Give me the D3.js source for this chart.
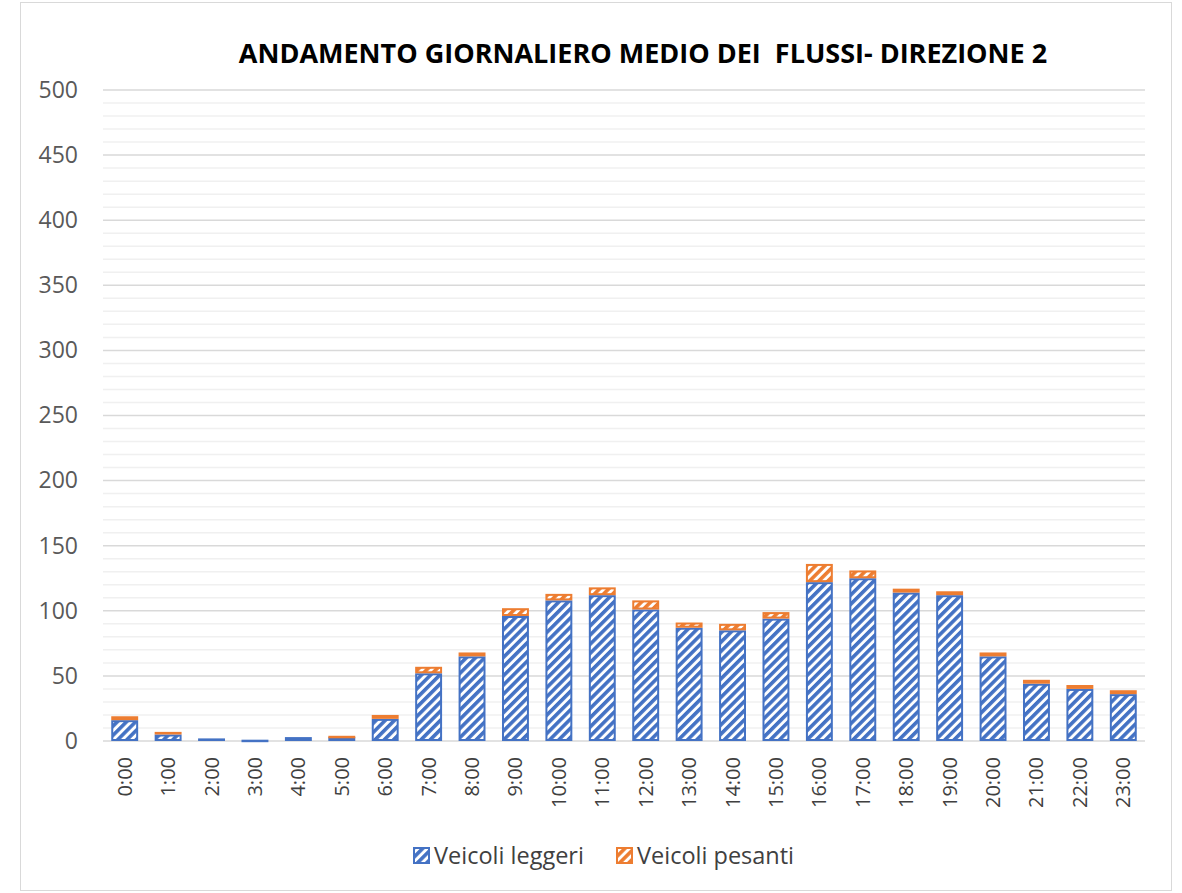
<!DOCTYPE html>
<html lang="it">
<head>
  <meta charset="UTF-8">
  <title>Andamento giornaliero medio dei flussi - direzione 2</title>
  <script src="https://d3js.org/d3.v7.min.js"></script>
  <style>
    body { margin: 0; background: #fff; }
    text { font-family: "Open Sans", "Noto Sans", sans-serif; }
  </style>
</head>
<body>
  <script>
    // Data
    const hours = ["0:00","1:00","2:00","3:00","4:00","5:00","6:00","7:00","8:00","9:00","10:00","11:00",
                   "12:00","13:00","14:00","15:00","16:00","17:00","18:00","19:00","20:00","21:00","22:00","23:00"];
    const leggeri = [16, 5, 2, 1, 3, 3, 17, 52, 65, 96, 108, 112, 101, 87, 85, 94, 122, 125, 114, 112, 65, 44, 40, 36];
    const pesanti = [3, 2, 0, 0, 0, 1, 3, 5, 3, 6, 5, 6, 7, 4, 5, 5, 14, 6, 3, 3, 3, 3, 3, 3];
    const seriesNames = ["Veicoli leggeri", "Veicoli pesanti"];
    const yTicks = [0, 50, 100, 150, 200, 250, 300, 350, 400, 450, 500];

    const width = 1182, height = 893;
    const plotLeft = 103, plotRight = 1145, plotTop = 90, plotBottom = 741;
    const colors = ["#4472C4", "#ED7D31"];

    const svg = d3.select("body").append("svg")
      .attr("width", width)
      .attr("height", height);

    // hatch patterns like Excel's wide upward diagonal
    const defs = svg.append("defs");
    colors.forEach((c, i) => {
      const p = defs.append("pattern")
        .attr("id", "hatch" + i)
        .attr("patternUnits", "userSpaceOnUse")
        .attr("width", 6.5).attr("height", 6.5)
        .attr("patternTransform", "rotate(45)");
      p.append("rect").attr("width", 6.5).attr("height", 6.5).attr("fill", "#fff");
      p.append("rect").attr("width", 3.6).attr("height", 6.5).attr("fill", c);
    });

    // chart frame
    svg.append("rect")
      .attr("x", 20.5).attr("y", 2.5)
      .attr("width", 1151).attr("height", 888)
      .attr("fill", "#fff")
      .attr("stroke", "#d9d9d9");

    const x = d3.scaleBand().domain(hours).range([plotLeft, plotRight]).paddingInner(0.38).paddingOuter(0.19);
    const y = d3.scaleLinear().domain([0, 500]).range([plotBottom, plotTop]);

    // gridlines: minor every 10, major every 50
    const g = svg.append("g");
    g.selectAll(".minor")
      .data(d3.range(0, 501, 10).filter(v => v % 50 !== 0))
      .enter().append("line")
      .attr("x1", plotLeft).attr("x2", plotRight)
      .attr("y1", d => y(d)).attr("y2", d => y(d))
      .attr("stroke", "#f0f0f0").attr("stroke-width", 1.5);

    g.selectAll(".major")
      .data(yTicks)
      .enter().append("line")
      .attr("x1", plotLeft).attr("x2", plotRight)
      .attr("y1", d => y(d)).attr("y2", d => y(d))
      .attr("stroke", "#d9d9d9").attr("stroke-width", 1.5);

    // y axis labels
    const yAxis = svg.append("g")
      .attr("transform", `translate(${plotLeft - 25},0)`)
      .call(d3.axisLeft(y).tickValues(yTicks).tickSize(0).tickPadding(0));
    yAxis.select(".domain").remove();
    yAxis.selectAll("text")
      .attr("font-size", 23)
      .attr("fill", "#595959")
      .style("font-family", "'Open Sans', 'Noto Sans', sans-serif");

    // stacked bars
    const stackData = hours.map((h, i) => ({ hour: h, leggeri: leggeri[i], pesanti: pesanti[i] }));
    const stacked = d3.stack().keys(["leggeri", "pesanti"])(stackData);

    stacked.forEach((layer, si) => {
      svg.append("g").selectAll("rect")
        .data(layer.filter(d => d[1] - d[0] > 0))
        .enter().append("rect")
        .attr("x", d => x(d.data.hour) + 1)
        .attr("width", x.bandwidth() - 2)
        .attr("y", d => y(d[1]) + 1)
        .attr("height", d => Math.max(0.5, y(d[0]) - y(d[1]) - 2))
        .attr("fill", `url(#hatch${si})`)
        .attr("stroke", colors[si])
        .attr("stroke-width", 2);
    });

    // x axis labels (rotated)
    const xAxis = svg.append("g")
      .attr("transform", `translate(0,${plotBottom})`)
      .call(d3.axisBottom(x).tickSize(0).tickPadding(0));
    xAxis.select(".domain").remove();
    xAxis.selectAll("text")
      .attr("font-size", 20)
      .attr("fill", "#404040")
      .attr("transform", "rotate(-90)")
      .attr("x", -16)
      .attr("y", 0)
      .attr("dy", "0.35em")
      .attr("text-anchor", "end")
      .style("font-family", "'Open Sans', 'Noto Sans', sans-serif");

    // title
    svg.append("text")
      .attr("x", 643).attr("y", 63)
      .attr("text-anchor", "middle")
      .attr("font-size", 27)
      .attr("font-weight", "bold")
      .attr("fill", "#000")
      .style("white-space", "pre")
      .text("ANDAMENTO GIORNALIERO MEDIO DEI  FLUSSI- DIREZIONE 2");

    // legend
    const legendX = [413, 616];
    const legend = svg.append("g");
    seriesNames.forEach((name, i) => {
      legend.append("rect")
        .attr("x", legendX[i] + 1).attr("y", 848)
        .attr("width", 15).attr("height", 15)
        .attr("fill", `url(#hatch${i})`)
        .attr("stroke", colors[i])
        .attr("stroke-width", 2);
      legend.append("text")
        .attr("x", legendX[i] + 21).attr("y", 864)
        .attr("font-size", 23.5)
        .attr("fill", "#404040")
        .text(name);
    });
  </script>
</body>
</html>
